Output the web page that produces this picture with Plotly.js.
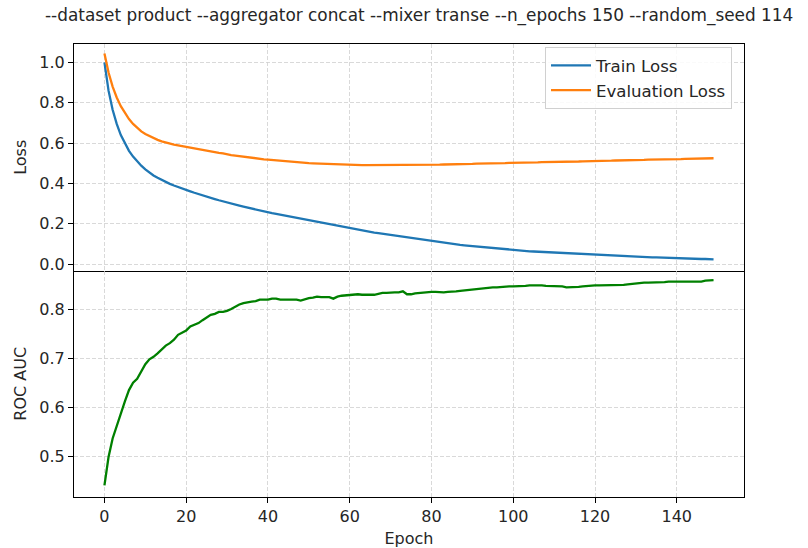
<!DOCTYPE html>
<html>
<head>
<meta charset="utf-8">
<script src="https://cdn.plot.ly/plotly-3.0.1.min.js"></script>
<style>html,body{margin:0;padding:0;background:#fff;}#chart{width:808px;height:548px;}</style>
</head>
<body>
<div id="chart"></div>
<script>
const titleText = "--dataset product --aggregator concat --mixer transe --n_epochs 150 --random_seed 114";

const epochs = [
  0,1,2,3,4,5,6,7,8,9,10,11,12,13,14,15,16,17,18,19,
  20,21,22,23,24,25,26,27,28,29,30,31,32,33,34,35,36,37,38,39,
  40,41,42,43,44,45,46,47,48,49,50,51,52,53,54,55,56,57,58,59,
  60,61,62,63,64,65,66,67,68,69,70,71,72,73,74,75,76,77,78,79,
  80,81,82,83,84,85,86,87,88,89,90,91,92,93,94,95,96,97,98,99,
  100,101,102,103,104,105,106,107,108,109,110,111,112,113,114,115,116,117,118,119,
  120,121,122,123,124,125,126,127,128,129,130,131,132,133,134,135,136,137,138,139,
  140,141,142,143,144,145,146,147,148,149
];

const trainLoss = [
  1.000,0.860,0.765,0.695,0.640,0.597,0.562,0.533,0.509,0.488,
  0.470,0.454,0.440,0.428,0.417,0.407,0.398,0.390,0.382,0.375,
  0.368,0.361,0.354,0.347,0.341,0.335,0.329,0.323,0.317,0.311,
  0.306,0.300,0.295,0.290,0.285,0.280,0.275,0.270,0.266,0.261,
  0.257,0.253,0.249,0.245,0.241,0.237,0.233,0.229,0.225,0.221,
  0.217,0.213,0.209,0.205,0.201,0.197,0.193,0.189,0.185,0.181,
  0.177,0.174,0.170,0.167,0.164,0.160,0.157,0.154,0.151,0.148,
  0.145,0.141,0.138,0.135,0.132,0.129,0.126,0.123,0.120,0.117,
  0.114,0.111,0.109,0.106,0.104,0.101,0.099,0.096,0.094,0.092,
  0.090,0.087,0.085,0.083,0.081,0.079,0.078,0.076,0.074,0.072,
  0.070,0.069,0.067,0.066,0.064,0.063,0.062,0.060,0.059,0.058,
  0.057,0.055,0.054,0.053,0.052,0.051,0.050,0.049,0.048,0.047,
  0.046,0.045,0.044,0.043,0.042,0.041,0.040,0.040,0.039,0.038,
  0.037,0.036,0.036,0.035,0.034,0.034,0.033,0.032,0.032,0.031,
  0.030,0.030,0.029,0.028,0.028,0.027,0.026,0.026,0.025,0.024
];

const evalLoss = [
  1.044,0.950,0.880,0.826,0.783,0.748,0.719,0.695,0.675,0.658,
  0.645,0.634,0.624,0.616,0.609,0.603,0.598,0.593,0.589,0.585,
  0.581,0.577,0.573,0.569,0.565,0.562,0.558,0.555,0.552,0.549,
  0.544,0.541,0.538,0.535,0.532,0.530,0.527,0.525,0.522,0.520,
  0.518,0.516,0.514,0.512,0.510,0.508,0.507,0.505,0.504,0.502,
  0.501,0.500,0.499,0.498,0.497,0.496,0.495,0.494,0.494,0.493,
  0.493,0.492,0.492,0.491,0.491,0.491,0.490,0.490,0.490,0.490,
  0.490,0.490,0.490,0.490,0.490,0.491,0.491,0.491,0.492,0.492,
  0.492,0.493,0.493,0.494,0.494,0.495,0.495,0.496,0.496,0.497,
  0.497,0.498,0.498,0.499,0.499,0.500,0.500,0.501,0.501,0.502,
  0.502,0.503,0.503,0.504,0.504,0.505,0.505,0.506,0.506,0.507,
  0.507,0.507,0.508,0.508,0.509,0.509,0.509,0.510,0.510,0.511,
  0.511,0.512,0.512,0.513,0.513,0.514,0.514,0.515,0.515,0.516,
  0.516,0.517,0.517,0.518,0.518,0.519,0.519,0.520,0.520,0.521,
  0.521,0.521,0.522,0.522,0.523,0.523,0.524,0.524,0.524,0.525
];

const rocAuc = [
  0.440,0.498,0.536,0.563,0.585,0.612,0.635,0.650,0.658,0.672,
  0.688,0.698,0.703,0.710,0.718,0.726,0.731,0.738,0.748,0.752,
  0.757,0.765,0.769,0.772,0.778,0.784,0.789,0.791,0.795,0.795,
  0.797,0.801,0.806,0.810,0.813,0.815,0.816,0.817,0.820,0.820,
  0.820,0.822,0.822,0.820,0.820,0.821,0.821,0.820,0.818,0.821,
  0.823,0.824,0.826,0.825,0.825,0.825,0.822,0.826,0.828,0.829,
  0.830,0.831,0.831,0.830,0.830,0.830,0.830,0.832,0.834,0.834,
  0.835,0.835,0.835,0.837,0.831,0.831,0.833,0.834,0.835,0.836,
  0.836,0.836,0.835,0.835,0.836,0.836,0.837,0.838,0.839,0.839,
  0.840,0.841,0.843,0.844,0.844,0.845,0.845,0.846,0.847,0.847,
  0.847,0.847,0.848,0.848,0.849,0.849,0.850,0.849,0.848,0.848,
  0.848,0.848,0.847,0.845,0.845,0.846,0.846,0.847,0.848,0.848,
  0.849,0.849,0.849,0.850,0.850,0.850,0.850,0.850,0.851,0.852,
  0.854,0.855,0.855,0.855,0.855,0.856,0.856,0.856,0.857,0.857,
  0.857,0.857,0.857,0.857,0.857,0.857,0.857,0.859,0.860,0.860
];

const xTicks = [0,20,40,60,80,100,120,140];
const lossTicks = [0.0,0.2,0.4,0.6,0.8,1.0];
const aucTicks = [0.5,0.6,0.7,0.8];

const FONT = "DejaVu Sans, sans-serif";
const TXT = "#262626";
const fs = 16;

const traces = [
  {x: epochs, y: trainLoss, name: "Train Loss", type: "scatter", mode: "lines",
   line: {color: "#1f77b4", width: 2.3}, xaxis: "x", yaxis: "y"},
  {x: epochs, y: evalLoss, name: "Evaluation Loss", type: "scatter", mode: "lines",
   line: {color: "#ff7f0e", width: 2.3}, xaxis: "x", yaxis: "y"},
  {x: epochs, y: rocAuc, name: "ROC AUC", type: "scatter", mode: "lines", showlegend: false,
   line: {color: "#008000", width: 2.3}, xaxis: "x2", yaxis: "y2"}
];

const gridCommon = {
  showgrid: true, gridcolor: "#cfcfcf", gridwidth: 0.8, griddash: "4px,2px",
  zeroline: false, showline: true, mirror: true, linecolor: "#000", linewidth: 1,
  tickfont: {family: FONT, size: fs, color: TXT}
};

const layout = {
  width: 808, height: 548,
  paper_bgcolor: "#fff", plot_bgcolor: "#fff",
  margin: {l: 74, r: 64, t: 44, b: 51},
  font: {family: FONT, size: fs, color: TXT},
  title: {text: titleText, xref: "container", x: 45/808, xanchor: "left",
          yref: "container", y: 1 - 15/548, yanchor: "middle",
          font: {family: FONT, size: 16.9, color: TXT}},
  showlegend: true,
  legend: {x: 0.703, y: 0.993, xanchor: "left", yanchor: "top", itemwidth: 40,
           bgcolor: "rgba(255,255,255,0.85)", bordercolor: "#d0d0d0", borderwidth: 1,
           font: {family: FONT, size: 16.6, color: TXT}},
  xaxis: Object.assign({}, gridCommon, {
    anchor: "y", range: [-7.45, 156.45], tickvals: xTicks, showticklabels: false, ticks: ""
  }),
  xaxis2: Object.assign({}, gridCommon, {
    anchor: "y2", matches: "x", range: [-7.45, 156.45], tickvals: xTicks, mirror: false,
    ticks: "outside", ticklen: 5, tickcolor: "#000", tickwidth: 1,
    title: {text: "Epoch", font: {family: FONT, size: fs, color: TXT}, standoff: 9}
  }),
  yaxis: Object.assign({}, gridCommon, {
    domain: [0.5, 1], range: [-0.031, 1.091], tickvals: lossTicks, tickformat: ".1f",
    ticks: "outside", ticklen: 5, tickcolor: "#000", tickwidth: 1,
    title: {text: "Loss", font: {family: FONT, size: fs, color: TXT}, standoff: 8}
  }),
  yaxis2: Object.assign({}, gridCommon, {
    domain: [0, 0.5], range: [0.4163, 0.8796], tickvals: aucTicks, tickformat: ".1f",
    ticks: "outside", ticklen: 5, tickcolor: "#000", tickwidth: 1,
    title: {text: "ROC AUC", font: {family: FONT, size: fs, color: TXT}, standoff: 8}
  })
};

Plotly.newPlot("chart", traces, layout, {displayModeBar: false, staticPlot: true});
</script>
</body>
</html>
